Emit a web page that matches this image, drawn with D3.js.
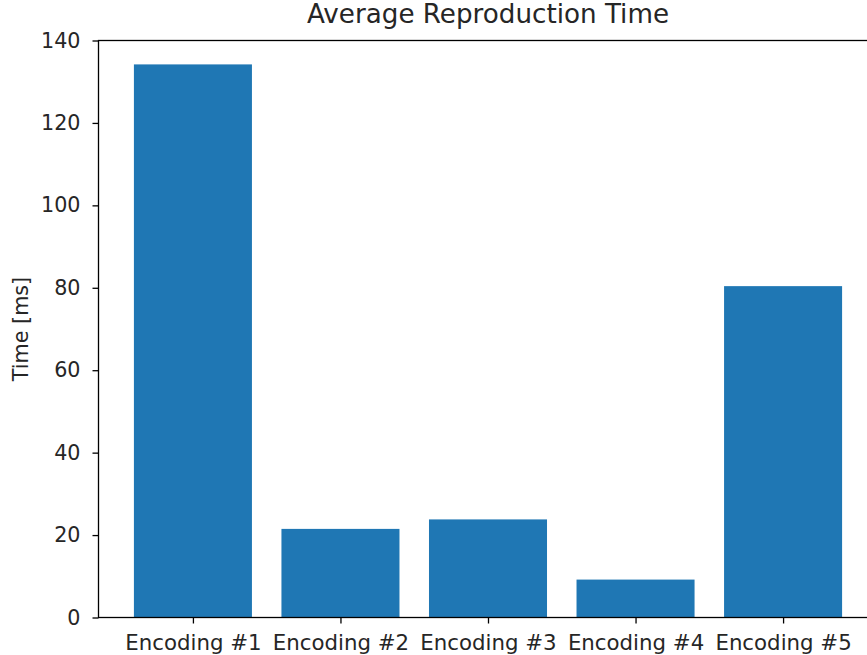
<!DOCTYPE html>
<html>
<head>
<meta charset="utf-8">
<script src="https://cdn.jsdelivr.net/npm/d3@7"></script>
<style>
  body { margin: 0; background: #fff; }
  svg { display: block; }
  text { font-family: "DejaVu Sans", sans-serif; fill: #262626; }
</style>
</head>
<body>
<div id="chart"></div>
<script>
const categories = ["Encoding #1", "Encoding #2", "Encoding #3", "Encoding #4", "Encoding #5"];
const times = [134.2, 21.5, 23.8, 9.2, 80.4];
const yTicks = [0, 20, 40, 60, 80, 100, 120, 140];

const width = 867;
const height = 655;
const plotLeft = 98.5, plotRight = 877.5, plotTop = 40.5, plotBottom = 617.5;

const svg = d3.select("#chart")
  .append("svg")
  .attr("width", width)
  .attr("height", height);

// matplotlib-style: bar width 0.8, margins 0.05
const x = d3.scaleLinear().domain([-0.64, 4.64]).range([plotLeft, plotRight]);
const y = d3.scaleLinear().domain([0, 140]).range([plotBottom, plotTop]);

svg.append("g")
  .selectAll("rect")
  .data(times)
  .enter()
  .append("rect")
  .attr("x", (d, i) => x(i - 0.4))
  .attr("width", (d, i) => x(i + 0.4) - x(i - 0.4))
  .attr("y", d => y(d))
  .attr("height", d => y(0) - y(d))
  .attr("fill", "#1f77b4");

const yAxis = svg.append("g")
  .attr("transform", `translate(${plotLeft},0)`)
  .call(d3.axisLeft(y).tickValues(yTicks).tickSize(6).tickPadding(12));

const xAxis = svg.append("g")
  .attr("transform", `translate(0,${plotBottom})`)
  .call(d3.axisBottom(x).tickValues(d3.range(categories.length))
    .tickFormat(i => categories[i]).tickSize(6).tickPadding(11.5));

[yAxis, xAxis].forEach(a => {
  a.select(".domain").remove();
  a.selectAll("line").attr("stroke", "#000").attr("stroke-width", 1.3);
  a.selectAll("text").style("font-size", "20.7px").attr("fill", "#262626");
});
xAxis.selectAll("text").style("font-size", "21.3px");

// spines
svg.append("rect")
  .attr("x", plotLeft).attr("y", plotTop)
  .attr("width", plotRight - plotLeft).attr("height", plotBottom - plotTop)
  .attr("fill", "none").attr("stroke", "#000").attr("stroke-width", 1.3);

svg.append("text")
  .attr("x", (plotLeft + plotRight) / 2)
  .attr("y", 22.5)
  .attr("text-anchor", "middle")
  .style("font-size", "26.2px")
  .text("Average Reproduction Time");

svg.append("text")
  .attr("transform", `translate(28,${(plotTop + plotBottom) / 2}) rotate(-90)`)
  .attr("text-anchor", "middle")
  .style("font-size", "20.7px")
  .text("Time [ms]");
</script>
</body>
</html>
